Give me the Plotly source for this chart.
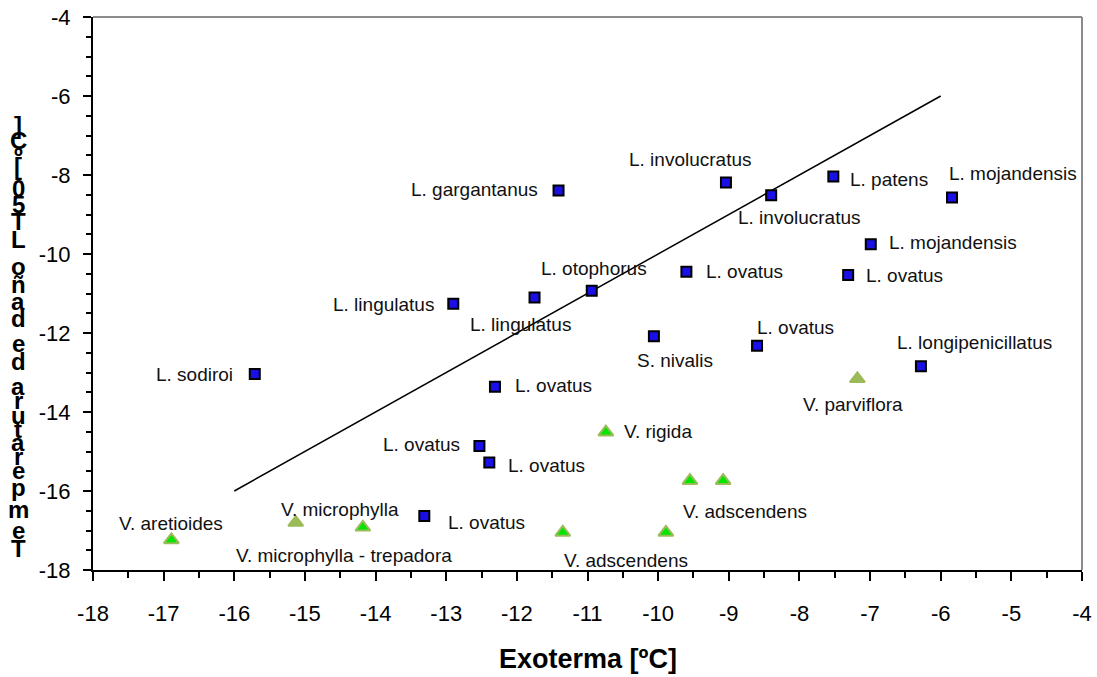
import plotly.graph_objects as go

# Lupinus / Senecio species (blue squares): exotherm vs LT50 damage temperature
sq_names = ["L. sodiroi", "L. lingulatus", "L. lingulatus", "L. otophorus", "L. gargantanus",
            "L. ovatus", "L. ovatus", "L. ovatus", "L. ovatus", "L. involucratus",
            "L. involucratus", "L. patens", "L. mojandensis", "L. mojandensis", "L. ovatus",
            "L. ovatus", "S. nivalis", "L. ovatus", "L. longipenicillatus"]
sq_exo = [-15.71, -12.90, -11.75, -10.94, -11.41, -12.31, -12.53, -12.39, -13.31, -9.04,
          -8.40, -7.52, -5.84, -6.99, -7.31, -9.60, -10.06, -8.60, -6.28]
sq_lt50 = [-13.04, -11.26, -11.10, -10.93, -8.39, -13.36, -14.86, -15.28, -16.63, -8.19,
           -8.51, -8.04, -8.57, -9.75, -10.53, -10.45, -12.08, -12.32, -12.84]

# Valeriana species (green triangles)
tr_names = ["V. parviflora", "V. rigida", "V. adscendens", "V. adscendens", "V. adscendens",
            "V. adscendens", "V. microphylla", "V. microphylla - trepadora", "V. aretioides"]
tr_exo = [-7.18, -10.74, -9.55, -9.08, -11.35, -9.89, -15.13, -14.18, -16.89]
tr_lt50 = [-13.16, -14.51, -15.74, -15.74, -17.05, -17.05, -16.80, -16.92, -17.24]

# 1:1 reference line
line_x = [-16, -6]
line_y = [-16, -6]

x_tickvals = [-18, -17, -16, -15, -14, -13, -12, -11, -10, -9, -8, -7, -6, -5, -4]
x_ticktext = ["-18", "-17", "-16", "-15", "-14", "-13", "-12", "-11", "-10", "-9", "-8",
              "-7", "-6", "-5", "-4"]
y_tickvals = [-18, -16, -14, -12, -10, -8, -6, -4]
y_ticktext = ["-18", "-16", "-14", "-12", "-10", "-8", "-6", "-4"]

x_title = "Exoterma [ºC]"
y_title = "Temperatura de daño LT50 [ºC]"

# label placement: (anchor, x offset px, y offset px); None = no label
sq_label_pos = [("right", -20, 0), ("right", -17, -1), ("center", -14, -27), ("center", 2, 22),
                ("right", -19, 1), ("left", 18, 1), ("right", -17, 1), ("left", 17, -3),
                ("left", 22, -7), ("center", -35, 23), ("center", 28, -22), ("left", 15, -3),
                ("left", -5, 24), ("left", 16, 2), ("left", 16, -1), ("left", 18, 0),
                ("left", -19, -24), ("left", -2, 18), ("left", -26, 24)]
tr_label_pos = [("center", -4, -26), ("left", 16, 1), None, ("left", -42, -31),
                ("left", -1, -28), None, ("left", -17, 13), ("left", -129, -28),
                ("center", 0, 16)]

OLIVE = "#9bbb59"
GREEN = "#00e600"
tr_fill = [OLIVE, GREEN, GREEN, GREEN, GREEN, GREEN, OLIVE, GREEN, GREEN]

FONT = "Liberation Sans, Arial, sans-serif"

fig = go.Figure()
fig.add_trace(go.Scatter(x=line_x, y=line_y, mode="lines",
                         line=dict(color="black", width=1.5), hoverinfo="skip"))
fig.add_trace(go.Scatter(x=sq_exo, y=sq_lt50, mode="markers", text=sq_names,
                         marker=dict(symbol="square", size=10, color="#1a0fe6",
                                     line=dict(color="black", width=2))))
fig.add_trace(go.Scatter(x=tr_exo, y=tr_lt50, mode="markers", text=tr_names,
                         marker=dict(symbol="triangle-up", size=13, color=tr_fill,
                                     line=dict(color=OLIVE, width=2))))

annotations = []
for names, xs, ys, pos in [(sq_names, sq_exo, sq_lt50, sq_label_pos),
                           (tr_names, tr_exo, tr_lt50, tr_label_pos)]:
    for name, xv, yv, p in zip(names, xs, ys, pos):
        if p is None:
            continue
        anchor, dx, dy = p
        annotations.append(dict(x=xv, y=yv, xref="x", yref="y", text=name, showarrow=False,
                                xanchor=anchor, yanchor="middle", xshift=dx, yshift=dy,
                                font=dict(family=FONT, size=19, color="#111111")))

# plot area in pixels
L, R, T, B = 93, 1082, 17, 570
PW, PH = R - L, B - T

# x-axis title
annotations.append(dict(x=0.5, y=(B - 659) / PH, xref="paper", yref="paper", text=x_title,
                        showarrow=False, xanchor="center", yanchor="middle",
                        font=dict(family=FONT, size=27, color="black", weight="bold")))

# y-axis title: upright characters stacked in reverse order
bold_w = {"]": .333, "[": .333, "C": .722, "º": .365, " ": .278, "0": .556, "5": .556,
          "T": .611, "L": .611, "o": .611, "ñ": .611, "a": .556, "d": .611, "e": .556,
          "r": .389, "u": .611, "t": .333, "p": .611, "m": .889}
chars = list(reversed(y_title))
steps = [(bold_w.get(a, .55) + bold_w.get(b, .55)) / 2 for a, b in zip(chars[:-1], chars[1:])]
top_px, bot_px = 125, 548
scale = (bot_px - top_px) / sum(steps)
cy = top_px
for i, ch in enumerate(chars):
    if i > 0:
        cy += steps[i - 1] * scale
    if ch == " ":
        continue
    annotations.append(dict(x=(18 - L) / PW, y=(B - cy) / PH, xref="paper", yref="paper",
                            text=ch, showarrow=False, xanchor="center", yanchor="middle",
                            font=dict(family=FONT, size=24, color="black", weight="bold")))

axis_common = dict(showgrid=False, zeroline=False, showline=True, linecolor="black",
                   linewidth=2, ticks="outside", tickcolor="black", tickwidth=2,
                   tickfont=dict(family=FONT, size=22, color="black"), tickmode="array",
                   automargin=False)

fig.update_layout(
    width=1097, height=677,
    margin=dict(l=L, r=1097 - R, t=T, b=677 - B),
    paper_bgcolor="white", plot_bgcolor="white",
    showlegend=False,
    xaxis=dict(range=[-18, -4], tickvals=x_tickvals, ticktext=x_ticktext, ticklen=9,
               ticklabelstandoff=14,
               minor=dict(tickmode="linear", tick0=-18, dtick=0.5, ticks="outside",
                          ticklen=6, tickwidth=2, tickcolor="black"),
               **axis_common),
    yaxis=dict(range=[-18, -4], tickvals=y_tickvals, ticktext=y_ticktext, ticklen=8,
               ticklabelstandoff=8,
               minor=dict(tickmode="linear", tick0=-18, dtick=0.5, ticks="outside",
                          ticklen=5, tickwidth=2, tickcolor="black"),
               **axis_common),
    annotations=annotations,
    shapes=[
        dict(type="line", xref="paper", yref="paper", x0=0, x1=1, y0=1, y1=1,
             line=dict(color="#8c8c8c", width=2)),
        dict(type="line", xref="paper", yref="paper", x0=1, x1=1, y0=0, y1=1,
             line=dict(color="#8c8c8c", width=2)),
    ],
)

fig.write_html("out.html")
